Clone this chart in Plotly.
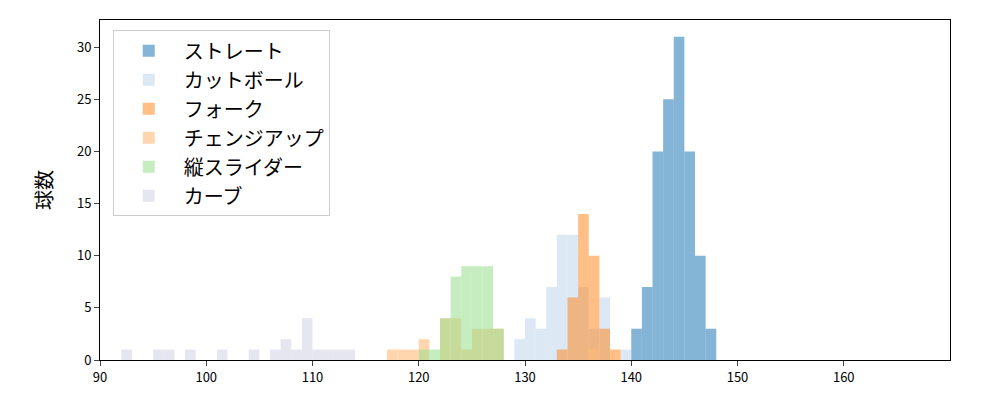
import plotly.graph_objects as go

names = ["ストレート", "カットボール", "フォーク", "チェンジアップ", "縦スライダー", "カーブ"]
colors = ["rgba(31,119,180,0.55)", "rgba(174,199,232,0.42)", "rgba(255,127,14,0.5)",
          "rgba(255,187,120,0.6)", "rgba(152,223,138,0.55)", "rgba(200,200,225,0.45)"]

st_x = [140, 141, 142, 143, 144, 145, 146, 147]
st_y = [3, 7, 20, 25, 31, 20, 10, 3]
ct_x = [129, 130, 131, 132, 133, 134, 135, 136, 137, 138, 139]
ct_y = [2, 4, 3, 7, 12, 12, 7, 3, 6, 0, 1]
fk_x = [133, 134, 135, 136, 137, 138]
fk_y = [1, 6, 14, 10, 3, 1]
ch_x = [117, 118, 119, 120, 121, 122, 123, 124, 125, 126, 127, 136]
ch_y = [1, 1, 1, 2, 0, 4, 4, 1, 3, 3, 3, 1]
vs_x = [120, 121, 122, 123, 124, 125, 126, 127]
vs_y = [1, 1, 4, 8, 9, 9, 9, 3]
cv_x = [92, 95, 96, 98, 101, 104, 106, 107, 108, 109, 110, 111, 112, 113]
cv_y = [1, 1, 1, 1, 1, 1, 1, 2, 1, 4, 1, 1, 1, 1]

data = [(st_x, st_y), (ct_x, ct_y), (fk_x, fk_y), (ch_x, ch_y), (vs_x, vs_y), (cv_x, cv_y)]

fig = go.Figure()
for (xs, ys), n, c in zip(data, names, colors):
    fig.add_trace(go.Bar(x=[v + 0.5 for v in xs], y=ys, width=1.0, name=n,
                         marker=dict(color=c, line=dict(width=0))))

fig.update_layout(
    barmode="overlay", width=1000, height=400,
    plot_bgcolor="white", paper_bgcolor="white",
    margin=dict(l=92, r=58, t=12, b=48),
    font=dict(family="Noto Sans CJK JP", color="black"),
    xaxis=dict(range=[90, 170], tickvals=[90, 100, 110, 120, 130, 140, 150, 160],
               showline=True, linecolor="black", mirror=True, ticks="outside",
               showgrid=False, zeroline=False, tickfont=dict(size=13)),
    yaxis=dict(range=[0, 32.6], tickvals=[0, 5, 10, 15, 20, 25, 30],
               showline=True, linecolor="black", mirror=True, ticks="outside",
               showgrid=False, zeroline=False, tickfont=dict(size=13),
               title=dict(text="球数", font=dict(size=20), standoff=18)),
    legend=dict(x=0.015, y=0.97, xanchor="left", yanchor="top",
                bordercolor="#cccccc", borderwidth=1, font=dict(size=20),
                bgcolor="rgba(255,255,255,0.8)", traceorder="normal",
                itemwidth=60),
    showlegend=True,
)
fig.write_html("out.html")
